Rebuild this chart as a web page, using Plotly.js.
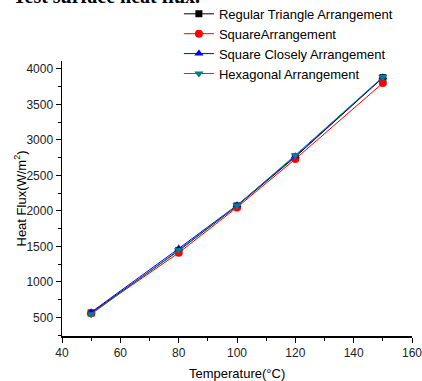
<!DOCTYPE html>
<html>
<head>
<meta charset="utf-8">
<script src="https://cdn.plot.ly/plotly-3.0.1.min.js"></script>
<style>html,body{margin:0;padding:0;background:#fff;}#chart{width:422px;height:381px;}</style>
</head>
<body>
<div id="chart"></div>
<script>
const temperature = [50, 80, 100, 120, 150];
const regularTriangle = [565, 1440, 2070, 2760, 3875];
const squareArr = [560, 1410, 2050, 2730, 3800];
const squareClosely = [575, 1470, 2080, 2770, 3880];
const hexagonal = [545, 1450, 2075, 2785, 3885];
const seriesNames = ["Regular Triangle Arrangement", "SquareArrangement", "Square Closely Arrangement", "Hexagonal Arrangement"];
const xTitle = "Temperature(°C)";
const yTitle = "Heat Flux(W/m<sup>2</sup>)";
const topCaption = "<b>Test surface heat flux.</b>";

const styles = [
  {color: "#000000", symbol: "square", size: 7},
  {color: "#ff0000", symbol: "circle", size: 8},
  {color: "#0000ff", symbol: "triangle-up", size: 8},
  {color: "#008080", symbol: "triangle-down", size: 8}
];
const ys = [regularTriangle, squareArr, squareClosely, hexagonal];
const data = ys.map((y, i) => ({
  x: temperature, y: y, name: seriesNames[i], type: "scatter", mode: "lines+markers",
  line: {color: styles[i].color, width: 1},
  marker: {color: styles[i].color, symbol: styles[i].symbol, size: styles[i].size}
}));

const layout = {
  width: 422, height: 381,
  margin: {l: 62, r: 10, t: 61, b: 45, autoexpand: false},
  paper_bgcolor: "#fff", plot_bgcolor: "#fff",
  font: {family: "Arial, Liberation Sans, sans-serif", color: "#000", size: 12},
  showlegend: true,
  legend: {x: 0.334, y: 1.226, xanchor: "left", yanchor: "top", bgcolor: "rgba(0,0,0,0)",
    font: {size: 13, color: "#000"}, itemwidth: 30, tracegroupgap: 0},
  xaxis: {range: [40, 160.001], dtick: 20, tick0: 40, showgrid: false, zeroline: false,
    showline: true, linecolor: "#000", linewidth: 1.5, ticks: "outside", ticklen: 5, tickcolor: "#000",
    minor: {dtick: 10, ticks: "outside", ticklen: 3, tickcolor: "#000", showgrid: false},
    tickfont: {size: 12, color: "#222"}, ticklabeloverflow: "allow"},
  yaxis: {range: [240, 4110], dtick: 500, tick0: 0, showgrid: false, zeroline: false,
    showline: true, linecolor: "#000", linewidth: 1.5, ticks: "outside", ticklen: 5, tickcolor: "#000",
    minor: {dtick: 250, ticks: "outside", ticklen: 3, tickcolor: "#000", showgrid: false},
    tickfont: {size: 12, color: "#222"}},
  annotations: [
    {xref: "paper", yref: "paper", x: 0.5, y: -0.136, xanchor: "center", yanchor: "middle",
     text: xTitle, showarrow: false, font: {size: 13, color: "#000"}},
    {xref: "paper", yref: "paper", x: -0.12, y: 0.5, xanchor: "center", yanchor: "middle",
     text: yTitle, textangle: -90, showarrow: false, font: {size: 13, color: "#000"}},
    {xref: "paper", yref: "paper", x: 0.4, y: 1.236, xanchor: "right", yanchor: "middle",
     text: topCaption, showarrow: false,
     font: {family: "Liberation Serif, Times New Roman, serif", size: 20, color: "#000"}}
  ]
};
Plotly.newPlot("chart", data, layout, {displayModeBar: false, staticPlot: true});
</script>
</body>
</html>
